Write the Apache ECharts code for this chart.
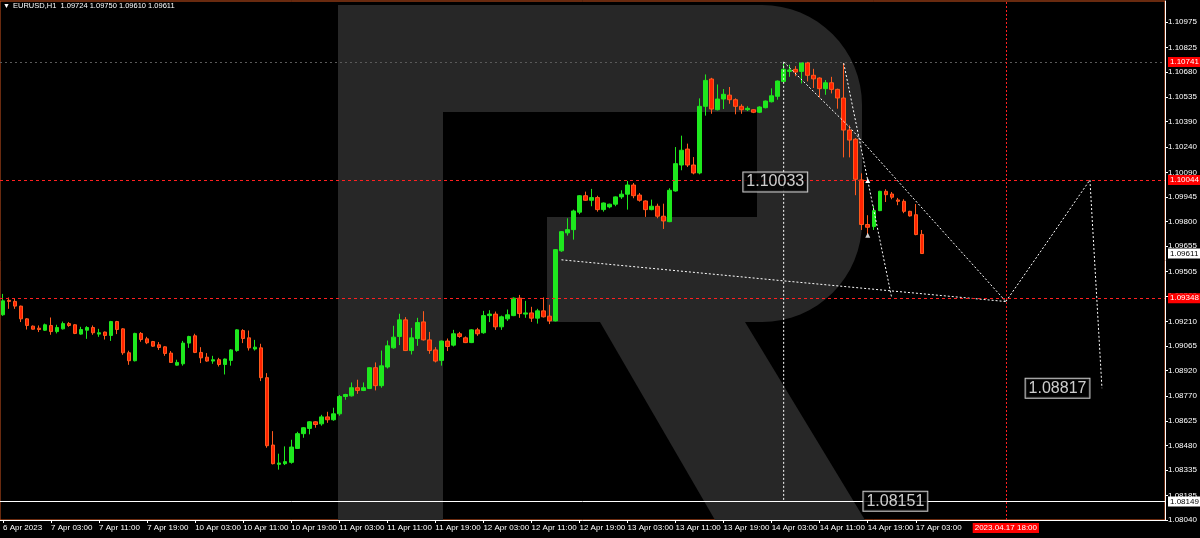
<!DOCTYPE html>
<html><head><meta charset="utf-8">
<script src="https://cdn.jsdelivr.net/npm/echarts@6/dist/echarts.min.js"></script>
<style>html,body{margin:0;padding:0;background:#000}#c{width:1200px;height:538px}</style>
</head><body><div id="c"></div>
<script>
const symbolName = 'EURUSD,H1';
const sessions = [['6 Apr',19,23],['7 Apr',0,23],['10 Apr',0,23],['11 Apr',0,23],['12 Apr',0,23],['13 Apr',0,23],['14 Apr',0,23],['17 Apr',0,23],['18 Apr',0,23]];
const slotCount = 194;

const openP = [1.09250,1.09335,1.09329,1.09301,1.09226,1.09183,1.09171,1.09159,1.09187,1.09151,
1.09167,1.09198,1.09191,1.09136,1.09159,1.09175,1.09136,1.09148,1.09128,1.09210,
1.09167,1.09026,1.08979,1.09140,1.09108,1.09092,1.09073,1.09061,1.09024,1.08953,
1.08961,1.09083,1.09126,1.09028,1.09000,1.08977,1.08985,1.08957,1.08981,1.09039,
1.09157,1.09114,1.09048,1.09055,1.08879,1.08482,1.08368,1.08372,1.08380,1.08462,
1.08549,1.08580,1.08619,1.08607,1.08648,1.08631,1.08666,1.08768,1.08772,1.08820,
1.08804,1.08815,1.08938,1.08832,1.08942,1.09055,1.09122,1.09220,1.09039,1.09110,
1.09208,1.09102,1.09043,1.08981,1.09095,1.09071,1.09138,1.09114,1.09086,1.09161,
1.09144,1.09245,1.09254,1.09179,1.09226,1.09245,1.09348,1.09254,1.09261,1.09230,
1.09273,1.09242,1.09214,1.09627,1.09733,1.09752,1.09855,1.09952,1.09925,1.09941,
1.09870,1.09886,1.09902,1.09945,1.09961,1.10015,1.09956,1.09921,1.09870,1.09890,
1.09831,1.09799,1.09980,1.10133,1.10227,1.10133,1.10086,1.10479,1.10640,1.10459,
1.10522,1.10545,1.10518,1.10479,1.10459,1.10459,1.10444,1.10471,1.10506,1.10538,
1.10626,1.10685,1.10697,1.10685,1.10736,1.10662,1.10646,1.10583,1.10618,1.10579,
1.10528,1.10339,1.10285,1.10045,1.09782,1.09770,1.09864,1.09978,1.09962,1.09927,
1.09919,1.09860,1.09840,1.09724];
const highP = [1.09373,1.09352,1.09344,1.09304,1.09230,1.09187,1.09187,1.09198,1.09234,1.09191,
1.09210,1.09207,1.09195,1.09179,1.09183,1.09187,1.09167,1.09151,1.09214,1.09214,
1.09171,1.09038,1.09144,1.09148,1.09120,1.09096,1.09089,1.09065,1.09036,1.08985,
1.09096,1.09126,1.09138,1.09059,1.09024,1.09008,1.08996,1.08992,1.09048,1.09165,
1.09165,1.09157,1.09102,1.09079,1.08906,1.08564,1.08431,1.08474,1.08513,1.08560,
1.08588,1.08623,1.08623,1.08660,1.08678,1.08702,1.08777,1.08784,1.08851,1.08867,
1.08851,1.08941,1.08969,1.09039,1.09098,1.09185,1.09256,1.09236,1.09173,1.09232,
1.09271,1.09149,1.09059,1.09098,1.09110,1.09161,1.09149,1.09122,1.09165,1.09173,
1.09273,1.09277,1.09269,1.09245,1.09281,1.09352,1.09367,1.09332,1.09297,1.09285,
1.09352,1.09309,1.09637,1.09744,1.09819,1.09870,1.09956,1.09976,1.09992,1.09952,
1.09912,1.09905,1.09948,1.09984,1.10039,1.10027,1.09968,1.09925,1.09929,1.09905,
1.09905,1.09996,1.10239,1.10306,1.10259,1.10180,1.10526,1.10667,1.10647,1.10608,
1.10581,1.10593,1.10526,1.10491,1.10479,1.10462,1.10479,1.10513,1.10585,1.10631,
1.10736,1.10724,1.10716,1.10740,1.10741,1.10700,1.10650,1.10634,1.10653,1.10583,
1.10733,1.10367,1.10292,1.10084,1.09837,1.09892,1.09981,1.09990,1.09974,1.09939,
1.09931,1.09863,1.09903,1.09750];
const lowP = [1.09244,1.09285,1.09285,1.09207,1.09163,1.09163,1.09148,1.09155,1.09132,1.09140,
1.09163,1.09179,1.09136,1.09132,1.09108,1.09132,1.09120,1.09104,1.09096,1.09136,
1.09014,1.08955,1.08975,1.09091,1.09077,1.09061,1.09043,1.09008,1.08967,1.08950,
1.08950,1.09055,1.09024,1.08965,1.08973,1.08961,1.08945,1.08898,1.08950,1.09032,
1.09083,1.09039,1.09039,1.08859,1.08466,1.08368,1.08337,1.08364,1.08372,1.08459,
1.08525,1.08545,1.08584,1.08596,1.08613,1.08625,1.08655,1.08749,1.08768,1.08784,
1.08800,1.08812,1.08804,1.08820,1.08933,1.09050,1.09071,1.09036,1.09016,1.09067,
1.09098,1.09020,1.08969,1.08950,1.09036,1.09063,1.09114,1.09083,1.09083,1.09126,
1.09138,1.09207,1.09161,1.09161,1.09214,1.09242,1.09232,1.09232,1.09208,1.09198,
1.09234,1.09195,1.09211,1.09621,1.09717,1.09693,1.09843,1.09921,1.09890,1.09858,
1.09858,1.09878,1.09890,1.09933,1.09870,1.09937,1.09917,1.09827,1.09866,1.09819,
1.09756,1.09796,1.09976,1.10102,1.10121,1.10078,1.10078,1.10424,1.10435,1.10455,
1.10463,1.10494,1.10432,1.10435,1.10451,1.10439,1.10439,1.10467,1.10502,1.10518,
1.10624,1.10653,1.10657,1.10614,1.10626,1.10587,1.10532,1.10547,1.10555,1.10465,
1.10178,1.10178,1.09955,1.09750,1.09725,1.09750,1.09861,1.09915,1.09931,1.09896,
1.09849,1.09829,1.09719,1.09610];
const closeP = [1.09332,1.09329,1.09301,1.09226,1.09187,1.09165,1.09163,1.09191,1.09151,1.09175,
1.09198,1.09187,1.09140,1.09163,1.09175,1.09144,1.09144,1.09128,1.09210,1.09163,
1.09026,1.08979,1.09140,1.09104,1.09085,1.09065,1.09057,1.09022,1.08969,1.08969,
1.09083,1.09122,1.09028,1.08996,1.08977,1.08985,1.08957,1.08989,1.09043,1.09161,
1.09110,1.09055,1.09059,1.08879,1.08478,1.08372,1.08376,1.08384,1.08470,1.08549,
1.08584,1.08619,1.08603,1.08648,1.08631,1.08666,1.08768,1.08780,1.08820,1.08804,
1.08820,1.08938,1.08832,1.08949,1.09067,1.09118,1.09220,1.09039,1.09114,1.09204,
1.09102,1.09039,1.08977,1.09095,1.09063,1.09138,1.09122,1.09086,1.09161,1.09138,
1.09245,1.09254,1.09179,1.09238,1.09250,1.09348,1.09257,1.09261,1.09230,1.09273,
1.09238,1.09214,1.09634,1.09740,1.09752,1.09862,1.09952,1.09925,1.09941,1.09870,
1.09909,1.09902,1.09945,1.09961,1.10015,1.09952,1.09925,1.09870,1.09890,1.09831,
1.09803,1.09984,1.10141,1.10220,1.10133,1.10086,1.10479,1.10632,1.10463,1.10522,
1.10550,1.10518,1.10479,1.10459,1.10467,1.10444,1.10475,1.10510,1.10541,1.10628,
1.10697,1.10693,1.10681,1.10736,1.10662,1.10641,1.10583,1.10618,1.10579,1.10528,
1.10339,1.10280,1.10049,1.09782,1.09766,1.09864,1.09978,1.09958,1.09943,1.09919,
1.09860,1.09833,1.09723,1.09611];

const xTickLabels = ['6 Apr 2023','7 Apr 03:00','7 Apr 11:00','7 Apr 19:00','10 Apr 03:00','10 Apr 11:00','10 Apr 19:00',
'11 Apr 03:00','11 Apr 11:00','11 Apr 19:00','12 Apr 03:00','12 Apr 11:00','12 Apr 19:00','13 Apr 03:00',
'13 Apr 11:00','13 Apr 19:00','14 Apr 03:00','14 Apr 11:00','14 Apr 19:00','17 Apr 03:00'];
const xTickStep = 8;
const yTicks = [1.10975,1.10825,1.10680,1.10535,1.10390,1.10240,1.10090,1.09945,1.09800,1.09655,1.09505,
1.09360,1.09210,1.09065,1.08920,1.08770,1.08625,1.08480,1.08335,1.08185,1.08040];

const levelHigh = 1.10741, levelMid = 1.10044, levelLow = 1.09348, levelSupport = 1.08149;
const crossTime = '17 Apr 18:00', crossLabel = '2023.04.17 18:00';

const trendLine = [[93,1.09574],[130,1.09450],[167,1.09328]];
const channelLine = [[130,1.10741],[141,1.10355],[149,1.10039],[167,1.09328]];
const dropLine = [[140,1.10733],[144,1.10042],[148,1.09348]];
const verticalLine = [[130,1.10741],[130,1.08151]];
const forecastPath = [[167,1.09328],[174,1.09685],[181,1.10045],[182,1.09432],[183,1.08817]];
const extraMarks = [[144,1.09719]];
const priceBoxes = [[135,1.10033],[155,1.08151],[183,1.08817]];

const categories = [];
sessions.forEach(([d,a,b]) => { for (let h=a; h<=b; h++) categories.push(d + ' ' + String(h).padStart(2,'0') + ':00'); });
categories.length = slotCount;
const candles = openP.map((o,i) => [o, closeP[i], lowP[i], highP[i]]);
const last = openP.length - 1;
const header = symbolName + '  ' + [openP[last],highP[last],lowP[last],closeP[last]].map(v=>v.toFixed(5)).join(' ');

// watermark "R" outline (decoration)
function arcPts(cx, cy, r, a0, a1) {
  const pts = [];
  for (let k = 0; k <= 16; k++) { const a = (a0 + (a1 - a0) * k / 16) * Math.PI / 180; pts.push([cx + r * Math.cos(a), cy + r * Math.sin(a)]); }
  return pts;
}
const bowl = [[443,5],[762,5]].concat(arcPts(762,105,100,-90,0), arcPts(762,222,100,0,90),
  [[547,322],[547,217],[757,217],[757,112],[443,112]]);

const FONT = '"Liberation Sans", Arial, sans-serif';
const tickShown = i => i % xTickStep === 0 && i / xTickStep < xTickLabels.length;
const dotted = {color:'#ffffff', width:1, type:[2,2]};
const drawLine = (data) => ({type:'line', data, symbol:'triangle', symbolSize:5, showSymbol:true,
  itemStyle:{color:'#ffffff'}, lineStyle:dotted, animation:false, silent:true, z:4});
const WM = '#272727';

const chart = echarts.init(document.getElementById('c'), null, {renderer:'canvas'});
chart.setOption({
  backgroundColor:'#000000',
  animation:false,
  graphic:[
    {type:'rect', z:0, shape:{x:338,y:5,width:105,height:515}, style:{fill:WM}},
    {type:'polygon', z:0, shape:{points:bowl}, style:{fill:WM}},
    {type:'polygon', z:0, shape:{points:[[600,322],[745,322],[865,520],[715,520]]}, style:{fill:WM}},
    {type:'text', z:10, x:3, y:3, style:{text:'▼', fill:'#ffffff', fontSize:7, fontFamily:FONT}},
    {type:'text', z:10, x:13, y:2, style:{text:header, fill:'#ffffff', fontSize:7.5, fontFamily:FONT}}
  ],
  grid:{left:0, right:35, top:1, bottom:18, show:true, borderColor:'#d2551e', borderWidth:1, backgroundColor:'transparent'},
  xAxis:{type:'category', data:categories, boundaryGap:true,
    axisLine:{show:true, lineStyle:{color:'#ffffff', width:1}},
    axisTick:{show:true, alignWithLabel:true, interval:(i)=>tickShown(i), length:3, lineStyle:{color:'#ffffff'}},
    axisLabel:{interval:(i)=>tickShown(i), formatter:(v,i)=>xTickLabels[Math.round(i/xTickStep)], align:'left',
      color:'#ffffff', fontSize:8, fontFamily:FONT, margin:4},
    splitLine:{show:false}},
  yAxis:{type:'value', position:'right', min:1.0804, max:1.111, scale:true,
    axisLine:{show:true, lineStyle:{color:'#ffffff', width:1}},
    axisTick:{show:true, length:3, customValues:yTicks, lineStyle:{color:'#ffffff'}},
    axisLabel:{customValues:yTicks, formatter:v=>v.toFixed(5), color:'#ffffff', fontSize:8, fontFamily:FONT, margin:3},
    splitLine:{show:false}},
  series:[
    {type:'candlestick', data:candles, barWidth:4, z:3,
      itemStyle:{color:'#1ee81e', color0:'#ff2200', borderColor:'#1ee81e', borderColor0:'#ff5a1e', borderWidth:1},
      markLine:{silent:true, symbol:['none','none'], animation:false, precision:5,
        label:{position:'end', distance:3, fontSize:8, fontFamily:FONT, padding:[1,2,1,2]},
        data:[
          {yAxis:levelHigh, lineStyle:{color:'#5a5a5a', type:[2,3], width:1}, label:{color:'#fff', backgroundColor:'#ff0000', formatter:p=>p.value.toFixed(5)}},
          {yAxis:levelMid, lineStyle:{color:'#ff2020', type:[3,3], width:1}, label:{color:'#fff', backgroundColor:'#ff0000', formatter:p=>p.value.toFixed(5)}},
          {yAxis:closeP[last], lineStyle:{color:'rgba(0,0,0,0)', width:0}, label:{color:'#000', backgroundColor:'#ffffff', formatter:p=>p.value.toFixed(5)}},
          {yAxis:levelLow, lineStyle:{color:'#ff2020', type:[3,3], width:1}, label:{color:'#fff', backgroundColor:'#ff0000', formatter:p=>p.value.toFixed(5)}},
          {yAxis:levelSupport, lineStyle:{color:'#ffffff', type:'solid', width:1}, label:{color:'#000', backgroundColor:'#ffffff', formatter:p=>p.value.toFixed(5)}},
          {xAxis:crossTime, lineStyle:{color:'#ff2020', type:[2,2], width:1}, label:{position:'start', distance:3, color:'#fff', backgroundColor:'#ff0000', formatter:()=>crossLabel}}
        ]}
    },
    drawLine(trendLine),
    drawLine(channelLine),
    drawLine(dropLine),
    drawLine(verticalLine),
    drawLine(forecastPath),
    {type:'scatter', data:extraMarks, symbol:'triangle', symbolSize:5, itemStyle:{color:'#fff'}, silent:true, z:4},
    {type:'scatter', data:priceBoxes.map((d,i)=>({value:d, label:{distance:[6,6,12][i]}})), symbolSize:1, itemStyle:{color:'rgba(0,0,0,0)'}, silent:true, z:6,
      label:{show:true, position:'left', formatter:p=>p.value[1].toFixed(5), color:'#ffffff', fontSize:16, fontFamily:FONT,
        backgroundColor:'#000000', borderColor:'#ffffff', borderWidth:1, padding:[1,3,0,3], lineHeight:18}}
  ]
});
</script></body></html>
